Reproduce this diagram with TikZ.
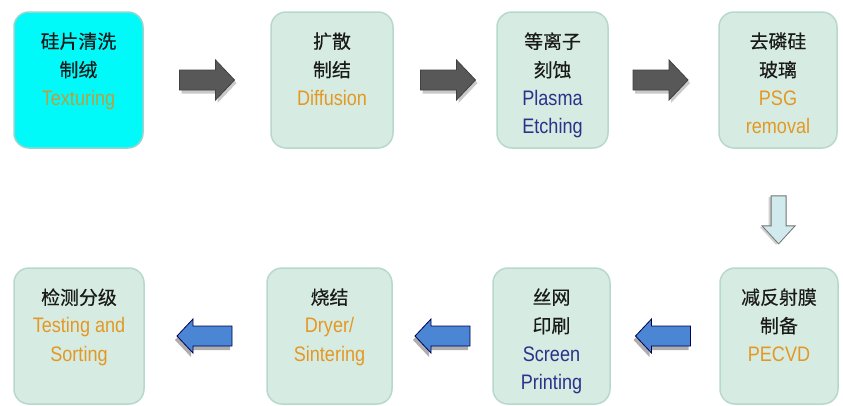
\documentclass[tikz,border=0pt]{standalone}
\usepackage{fontspec}
\setmainfont{Liberation Sans}[FakeStretch=0.86]
\newfontfamily\cjk{Noto Sans CJK SC}[Scale=0.9,FakeBold=0.4]
\usetikzlibrary{calc}
\definecolor{boxfill}{RGB}{214,236,226}
\definecolor{boxline}{RGB}{184,216,203}
\definecolor{cyanfill}{RGB}{0,250,250}
\definecolor{cyanline}{RGB}{150,214,206}
\definecolor{orangetxt}{RGB}{228,152,36}
\definecolor{olivetxt}{RGB}{184,160,64}
\definecolor{bluetxt}{RGB}{42,50,138}
\definecolor{cjktxt}{RGB}{26,26,26}
\definecolor{grayarrow}{RGB}{88,88,88}
\definecolor{bluearrow}{RGB}{74,134,212}
\definecolor{lightarrow}{RGB}{208,234,238}
\begin{document}
\begin{tikzpicture}[x=1pt,y=-1pt,
  stepbox/.style={draw=boxline,line width=1.5pt,fill=boxfill,rounded corners=15pt,inner sep=0pt},
  firstbox/.style={stepbox,draw=cyanline,fill=cyanfill},
  steptext/.style={anchor=north,inner sep=0pt,align=center,text=cjktxt,font=\fontsize{21}{28.5}\selectfont,yshift=-21pt},
  garrow/.pic={
    \fill[black!35,opacity=0.6] (-25.5,-7.5) -- (10.5,-7.5) -- (10.5,-17) -- (29.5,3) -- (10.5,23) -- (10.5,13.5) -- (-25.5,13.5) -- cycle;
    \draw[black!75,fill=grayarrow,line width=0.8pt] (-27.5,-10) -- (8.5,-10) -- (8.5,-20) -- (27.5,0) -- (8.5,20) -- (8.5,10) -- (-27.5,10) -- cycle;
  },
  barrow/.pic={
    \fill[black!45,opacity=0.7] (-29.5,4) -- (-13.5,-13) -- (-13.5,-6) -- (25.5,-6) -- (25.5,14) -- (-13.5,14) -- (-13.5,21) -- cycle;
    \draw[black!70!blue,fill=bluearrow,line width=0.8pt] (-27.5,0) -- (-11.5,-17) -- (-11.5,-10) -- (27.5,-10) -- (27.5,10) -- (-11.5,10) -- (-11.5,17) -- cycle;
  },
  darrow/.pic={
    \fill[black!30,opacity=0.6] (-10,-23) -- (5,-23) -- (5,7) -- (14,7) -- (-2.5,25) -- (-19,7) -- (-10,7) -- cycle;
    \draw[black!55,fill=lightarrow,line width=0.8pt] (-7.5,-24) -- (7.5,-24) -- (7.5,6) -- (16.5,6) -- (0,24) -- (-16.5,6) -- (-7.5,6) -- cycle;
  }]
\useasboundingbox (0,0) rectangle (843,405);
\fill[white] (0,0) rectangle (843,405);

% top row
\node[firstbox,minimum width=129pt,minimum height=136pt] (B1) at (78.5,80) {};
\node[stepbox,minimum width=122pt,minimum height=136pt] (B2) at (332,80) {};
\node[stepbox,minimum width=111pt,minimum height=136pt] (B3) at (552.5,80) {};
\node[stepbox,minimum width=118pt,minimum height=136pt] (B4) at (778,80) {};
% bottom row
\node[stepbox,minimum width=118pt,minimum height=136pt] (B5) at (779,336) {};
\node[stepbox,minimum width=117pt,minimum height=136pt] (B6) at (551.5,336) {};
\node[stepbox,minimum width=125pt,minimum height=136pt] (B7) at (329.5,336) {};
\node[stepbox,minimum width=130pt,minimum height=136pt] (B8) at (79,336) {};

\node[steptext] (T1) at (B1.north) {{\cjk 硅片清洗}\\{\cjk 制绒}\\\textcolor{olivetxt}{Texturing}};
\node[steptext] (T2) at (B2.north) {{\cjk 扩散}\\{\cjk 制结}\\\textcolor{orangetxt}{Diffusion}};
\node[steptext] (T3) at (B3.north) {{\cjk 等离子}\\{\cjk 刻蚀}\\\textcolor{bluetxt}{Plasma}\\\textcolor{bluetxt}{Etching}};
\node[steptext] (T4) at (B4.north) {{\cjk 去磷硅}\\{\cjk 玻璃}\\\textcolor{orangetxt}{PSG}\\\textcolor{orangetxt}{removal}};
\node[steptext] (T5) at (B5.north) {{\cjk 减反射膜}\\{\cjk 制备}\\\textcolor{orangetxt}{PECVD}};
\node[steptext] (T6) at (B6.north) {{\cjk 丝网}\\{\cjk 印刷}\\\textcolor{bluetxt}{Screen}\\\textcolor{bluetxt}{Printing}};
\node[steptext] (T7) at (B7.north) {{\cjk 烧结}\\\textcolor{orangetxt}{Dryer/}\\\textcolor{orangetxt}{Sintering}};
\node[steptext] (T8) at (B8.north) {{\cjk 检测分级}\\\textcolor{orangetxt}{Testing and}\\\textcolor{orangetxt}{Sorting}};

% arrows
\coordinate (A1) at ($(B1.east)!0.5!(B2.west)$);
\coordinate (A2) at ($(B2.east)!0.5!(B3.west)+(3,0)$);
\coordinate (A3) at ($(B3.east)!0.5!(B4.west)-(3,0)$);
\coordinate (A4) at ($(B4.south)!0.6!(B5.north)$);
\coordinate (A5) at ($(B5.west)!0.5!(B6.east)-(2,0)$);
\coordinate (A6) at ($(B6.west)!0.5!(B7.east)$);
\coordinate (A7) at ($(B7.west)!0.5!(B8.east)-(1,0)$);
\pic at (A1) {garrow};
\pic at (A2) {garrow};
\pic at (A3) {garrow};
\pic at (A4) {darrow};
\pic at (A5) {barrow};
\pic at (A6) {barrow};
\pic at (A7) {barrow};
\end{tikzpicture}
\end{document}
